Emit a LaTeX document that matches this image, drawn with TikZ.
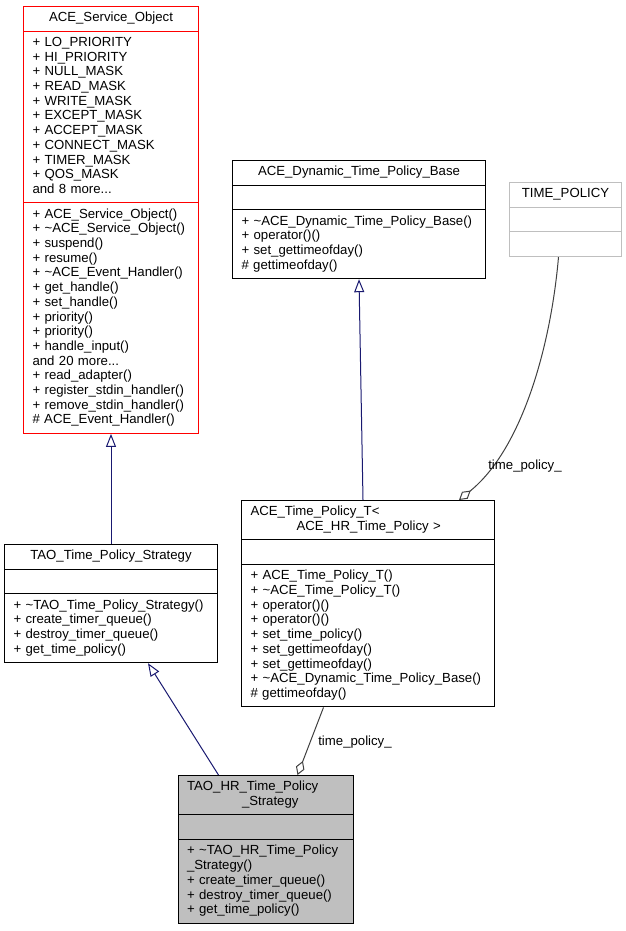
\documentclass[tikz,border=0pt]{standalone}
\usepackage{fontspec}
\setmainfont{Liberation Sans}
\usepackage{tikz}
\usetikzlibrary{shapes.multipart, arrows.meta}
\definecolor{HRgray}{RGB}{191,191,191}
\definecolor{edgeblue}{RGB}{25,25,112}
\definecolor{edgegray}{RGB}{64,64,64}
\definecolor{tplgray}{RGB}{191,191,191}
\newcommand{\classfont}{\fontsize{13.2}{14.7}\selectfont}
\newcommand{\ctitle}[1]{\makebox[\hsize][c]{\strut #1}}
\tikzset{umlclass/.style={rectangle split, rectangle split parts=3, draw, line width=1pt, anchor=north west, inner xsep=9pt, inner ysep=4.5pt, align=left, font=\classfont}}
\tikzset{inherit/.style={draw=edgeblue, line width=1pt, -{Triangle[open, length=13pt, width=10pt]}}}
\tikzset{usage/.style={draw=edgegray, line width=1pt, -{Diamond[open, length=15pt, width=9pt]}}}
\tikzset{edgelabel/.style={font=\classfont, inner sep=0pt}}

\begin{document}
\begin{tikzpicture}[x=1pt, y=-1pt]
  \useasboundingbox (0,0) rectangle (625,931);

  % --- ACE base classes ---
  \node[umlclass, draw=red, text width=157pt] (svc) at (23,6) {\ctitle{ACE\_Service\_Object}
    \nodepart{two}\strut + LO\_PRIORITY\\+ HI\_PRIORITY\\+ NULL\_MASK\\+ READ\_MASK\\+ WRITE\_MASK\\+ EXCEPT\_MASK\\+ ACCEPT\_MASK\\+ CONNECT\_MASK\\+ TIMER\_MASK\\+ QOS\_MASK\\and 8 more...\strut
    \nodepart{three}\strut + ACE\_Service\_Object()\\+ \textasciitilde ACE\_Service\_Object()\\+ suspend()\\+ resume()\\+ \textasciitilde ACE\_Event\_Handler()\\+ get\_handle()\\+ set\_handle()\\+ priority()\\+ priority()\\+ handle\_input()\\and 20 more...\\+ read\_adapter()\\+ register\_stdin\_handler()\\+ remove\_stdin\_handler()\\\# ACE\_Event\_Handler()\strut};

  \node[umlclass, text width=235pt] (dyn) at (232,160) {\ctitle{ACE\_Dynamic\_Time\_Policy\_Base}
    \nodepart{two}\strut
    \nodepart{three}\strut + \textasciitilde ACE\_Dynamic\_Time\_Policy\_Base()\\+ operator()()\\+ set\_gettimeofday()\\\# gettimeofday()\strut};

  \node[umlclass, draw=tplgray, text width=94pt] (tpl) at (509,182) {\ctitle{TIME\_POLICY}
    \nodepart{two}\strut
    \nodepart{three}\strut};

  % --- template instance ---
  \node[umlclass, text width=235pt] (timet) at (241,500) {\strut ACE\_Time\_Policy\_T<\\\hspace*{46pt}ACE\_HR\_Time\_Policy >\strut
    \nodepart{two}\strut
    \nodepart{three}\strut + ACE\_Time\_Policy\_T()\\+ \textasciitilde ACE\_Time\_Policy\_T()\\+ operator()()\\+ operator()()\\+ set\_time\_policy()\\+ set\_gettimeofday()\\+ set\_gettimeofday()\\+ \textasciitilde ACE\_Dynamic\_Time\_Policy\_Base()\\\# gettimeofday()\strut};

  % --- TAO strategies ---
  \node[umlclass, text width=195pt] (tps) at (4,544) {\ctitle{TAO\_Time\_Policy\_Strategy}
    \nodepart{two}\strut
    \nodepart{three}\strut + \textasciitilde TAO\_Time\_Policy\_Strategy()\\+ create\_timer\_queue()\\+ destroy\_timer\_queue()\\+ get\_time\_policy()\strut};

  \node[umlclass, fill=HRgray, text width=157pt] (hr) at (177.5,775) {\strut TAO\_HR\_Time\_Policy\\\hspace*{55pt}\_Strategy\strut
    \nodepart{two}\strut
    \nodepart{three}\strut + \textasciitilde TAO\_HR\_Time\_Policy\\\_Strategy()\\+ create\_timer\_queue()\\+ destroy\_timer\_queue()\\+ get\_time\_policy()\strut};

  % --- inheritance ---
  \draw[inherit] (tps.north) -- (svc.south);
  \draw[inherit] ([xshift=-47pt]hr.north) -- ([xshift=37pt]tps.south);
  \draw[inherit] ([xshift=-5pt]timet.north) -- (dyn.south);

  % --- usage ---
  \draw[usage] ([xshift=-7pt]tpl.south) .. controls +(-8,92) and +(62,-50) .. ([xshift=91pt]timet.north);
  \node[edgelabel] (lblA) at (525,466) {time\_policy\_};
  \draw[usage] ([xshift=-44.5pt]timet.south) -- ([xshift=32pt]hr.north);
  \node[edgelabel] (lblB) at (355,742) {time\_policy\_};
\end{tikzpicture}
\end{document}
